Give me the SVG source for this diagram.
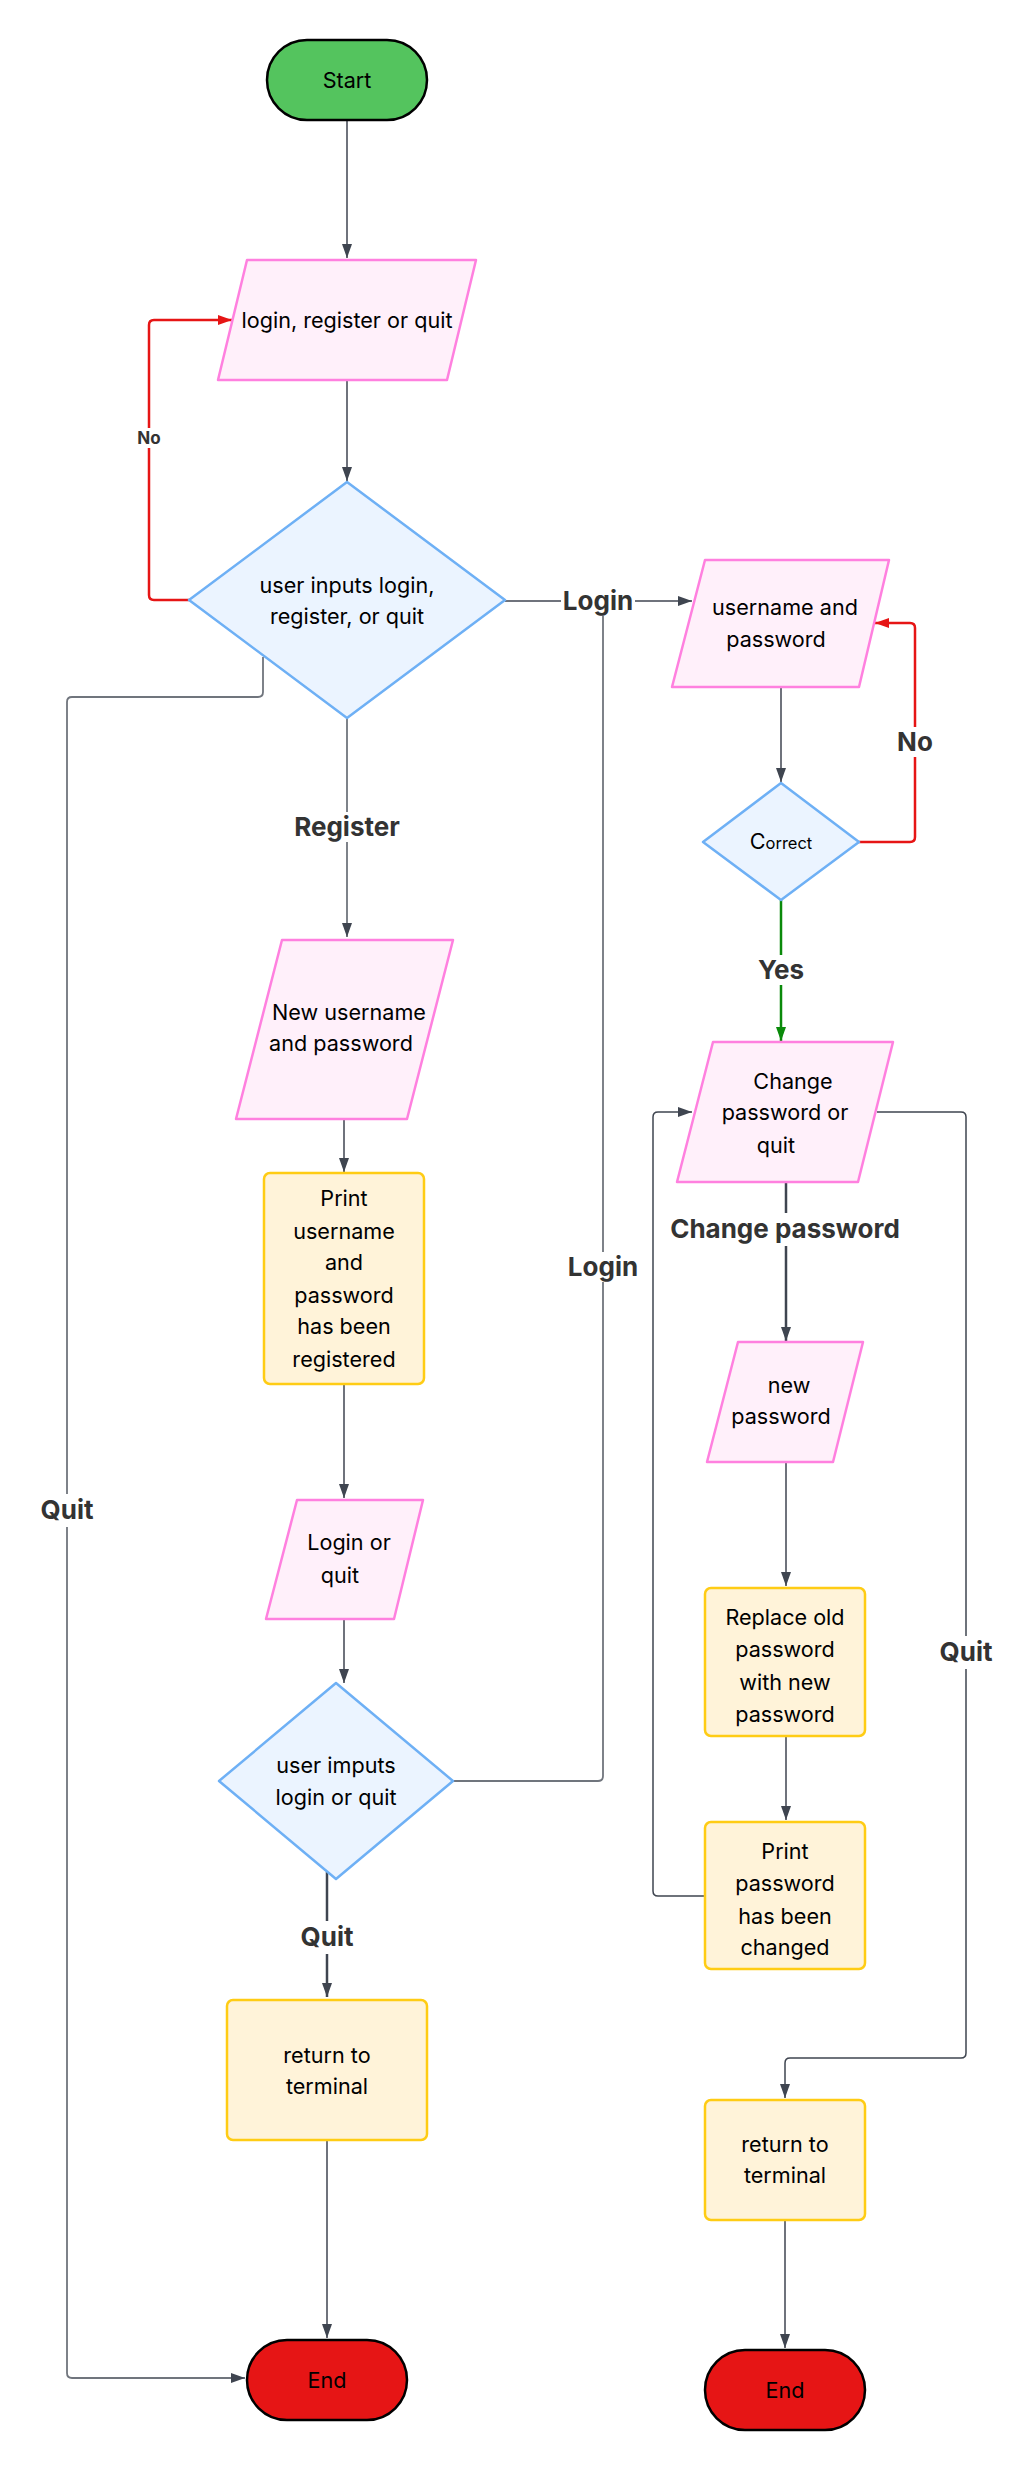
<svg xmlns="http://www.w3.org/2000/svg" width="1034" height="2469" viewBox="0 0 1034 2469">
<style>
text{font-family:Inter,"Liberation Sans",sans-serif;}
.nt{font-size:21.6px;fill:#000;text-anchor:middle;}
.lb{font-size:26px;font-weight:700;fill:#333;text-anchor:middle;}
.lbs{font-size:17px;font-weight:700;fill:#333;text-anchor:middle;}
.term{stroke:#000;stroke-width:2.5;}
.io{fill:#fff0fa;stroke:#ff80df;stroke-width:2.5;stroke-linejoin:round;}
.dec{fill:#ebf4ff;stroke:#6eb0f5;stroke-width:2.5;stroke-linejoin:round;}
.proc{fill:#fff3d9;stroke:#ffcc14;stroke-width:2.5;}
.e{fill:none;stroke:#3f4550;stroke-width:1.5;}
.ek{fill:none;stroke:#3f4550;stroke-width:2.5;}
.eg{fill:none;stroke:#70757d;stroke-width:1.8;}
.er{fill:none;stroke:#e61515;stroke-width:2.5;}
.egr{fill:none;stroke:#0a8a0a;stroke-width:2.5;}
.lbg{fill:#fff;}
</style>
<defs>
<marker id="ad" viewBox="0 0 14 10" refX="14" refY="5" markerWidth="14" markerHeight="10" markerUnits="userSpaceOnUse" orient="auto"><path d="M0,0 L14,5 L0,10 z" fill="#3f4550"/></marker>
<marker id="ar" viewBox="0 0 14 10" refX="14" refY="5" markerWidth="14" markerHeight="10" markerUnits="userSpaceOnUse" orient="auto"><path d="M0,0 L14,5 L0,10 z" fill="#e61515"/></marker>
<marker id="ag" viewBox="0 0 14 10" refX="14" refY="5" markerWidth="14" markerHeight="10" markerUnits="userSpaceOnUse" orient="auto"><path d="M0,0 L14,5 L0,10 z" fill="#0a8a0a"/></marker>
</defs>
<rect width="1034" height="2469" fill="#fff"/>

<g id="connectors">
<path class="e" d="M347,121 V258" marker-end="url(#ad)"/>
<path class="e" d="M347,381 V481" marker-end="url(#ad)"/>
<path class="er" d="M190,600 H154 Q149,600 149,595 V325 Q149,320 154,320 H232" marker-end="url(#ar)"/>
<path class="e" d="M505,601 H692" marker-end="url(#ad)"/>
<path class="eg" d="M347,718 V937" marker-end="url(#ad)"/>
<path class="eg" d="M263,657 V692 Q263,697 258,697 H72 Q67,697 67,702 V2373 Q67,2378 72,2378 H245" marker-end="url(#ad)"/>
<path class="e" d="M344,1120 V1172" marker-end="url(#ad)"/>
<path class="e" d="M344,1385 V1498" marker-end="url(#ad)"/>
<path class="e" d="M344,1620 V1683" marker-end="url(#ad)"/>
<path class="eg" d="M452,1781 H598 Q603,1781 603,1776 V602"/>
<path class="ek" d="M327,1872 V1997" marker-end="url(#ad)"/>
<path class="e" d="M327,2141 V2338" marker-end="url(#ad)"/>
<path class="e" d="M781,688 V782" marker-end="url(#ad)"/>
<path class="er" d="M858,842 H910 Q915,842 915,837 V628 Q915,623 910,623 H875" marker-end="url(#ar)"/>
<path class="egr" d="M781,900 V1041" marker-end="url(#ag)"/>
<path class="ek" d="M786,1183 V1341" marker-end="url(#ad)"/>
<path class="e" d="M786,1463 V1586" marker-end="url(#ad)"/>
<path class="e" d="M786,1737 V1820" marker-end="url(#ad)"/>
<path class="e" d="M704,1896 H658 Q653,1896 653,1891 V1117 Q653,1112 658,1112 H692" marker-end="url(#ad)"/>
<path class="e" d="M877,1112 H961 Q966,1112 966,1117 V2053 Q966,2058 961,2058 H790 Q785,2058 785,2063 V2098" marker-end="url(#ad)"/>
<path class="e" d="M785,2221 V2348" marker-end="url(#ad)"/>

<g id="edge-labels">
<rect class="lbg" x="136" y="428" width="26" height="20"/>
<text class="lbs" x="149" y="444">No</text>
<rect class="lbg" x="561" y="586" width="74" height="30"/>
<text class="lb" x="598" y="610">Login</text>
<rect class="lbg" x="290" y="812" width="114" height="30"/>
<text class="lb" x="347" y="836">Register</text>
<rect class="lbg" x="38" y="1494" width="58" height="33"/>
<text class="lb" x="67" y="1519">Quit</text>
<rect class="lbg" x="566" y="1252" width="74" height="30"/>
<text class="lb" x="603" y="1276">Login</text>
<rect class="lbg" x="298" y="1921" width="58" height="33"/>
<text class="lb" x="327" y="1946">Quit</text>
<rect class="lbg" x="896" y="727" width="38" height="30"/>
<text class="lb" x="915" y="751">No</text>
<rect class="lbg" x="755" y="955" width="52" height="30"/>
<text class="lb" x="781" y="979">Yes</text>
<rect class="lbg" x="664" y="1213" width="244" height="33"/>
<text class="lb" x="785" y="1238">Change password</text>
<rect class="lbg" x="937" y="1636" width="58" height="33"/>
<text class="lb" x="966" y="1661">Quit</text>
</g>
</g>

<g id="start">
<rect class="term" x="267" y="40" width="160" height="80" rx="40" fill="#54c45e"/>
<text class="nt" x="347" y="88">Start</text>
</g>
<g id="login-register-quit">
<polygon class="io" points="247,260 476,260 447,380 218,380"/>
<text class="nt" x="347" y="328">login, register or quit</text>
</g>
<g id="user-inputs">
<polygon class="dec" points="347,482 505,600 347,718 189,600"/>
<text class="nt" x="347" y="593">user inputs login,</text>
<text class="nt" x="347" y="624">register, or quit</text>
</g>
<g id="new-username">
<polygon class="io" points="282,940 453,940 407,1119 236,1119"/>
<text class="nt" x="349" y="1020">New username</text>
<text class="nt" x="341" y="1051">and password</text>
</g>
<g id="print-registered">
<rect class="proc" x="264" y="1173" width="160" height="211" rx="6"/>
<text class="nt" x="344" y="1206">Print</text>
<text class="nt" x="344" y="1239">username</text>
<text class="nt" x="344" y="1270">and</text>
<text class="nt" x="344" y="1303">password</text>
<text class="nt" x="344" y="1334">has been</text>
<text class="nt" x="344" y="1367">registered</text>
</g>
<g id="login-or-quit">
<polygon class="io" points="297,1500 423,1500 394,1619 266,1619"/>
<text class="nt" x="349" y="1550">Login or</text>
<text class="nt" x="340" y="1583">quit</text>
</g>
<g id="user-imputs">
<polygon class="dec" points="336,1683 453,1781 336,1879 219,1781"/>
<text class="nt" x="336" y="1773">user imputs</text>
<text class="nt" x="336" y="1805">login or quit</text>
</g>
<g id="return-terminal-1">
<rect class="proc" x="227" y="2000" width="200" height="140" rx="6"/>
<text class="nt" x="327" y="2063">return to</text>
<text class="nt" x="327" y="2094">terminal</text>
</g>
<g id="end-1">
<rect class="term" x="247" y="2340" width="160" height="80" rx="40" fill="#e61515"/>
<text class="nt" x="327" y="2388">End</text>
</g>
<g id="username-password">
<polygon class="io" points="705,560 889,560 859,687 672,687"/>
<text class="nt" x="785" y="615">username and</text>
<text class="nt" x="776" y="647">password</text>
</g>
<g id="correct">
<polygon class="dec" points="781,783 859,842 781,900 703,842"/>
<text class="nt" x="781" y="849"><tspan>C</tspan><tspan font-size="16.5">orrect</tspan></text>
</g>
<g id="change-or-quit">
<polygon class="io" points="713,1042 893,1042 858,1182 677,1182"/>
<text class="nt" x="793" y="1089">Change</text>
<text class="nt" x="785" y="1120">password or</text>
<text class="nt" x="776" y="1153">quit</text>
</g>
<g id="new-password">
<polygon class="io" points="738,1342 863,1342 833,1462 707,1462"/>
<text class="nt" x="789" y="1393">new</text>
<text class="nt" x="781" y="1424">password</text>
</g>
<g id="replace">
<rect class="proc" x="705" y="1588" width="160" height="148" rx="6"/>
<text class="nt" x="785" y="1625">Replace old</text>
<text class="nt" x="785" y="1657">password</text>
<text class="nt" x="785" y="1690">with new</text>
<text class="nt" x="785" y="1722">password</text>
</g>
<g id="print-changed">
<rect class="proc" x="705" y="1822" width="160" height="147" rx="6"/>
<text class="nt" x="785" y="1859">Print</text>
<text class="nt" x="785" y="1891">password</text>
<text class="nt" x="785" y="1924">has been</text>
<text class="nt" x="785" y="1955">changed</text>
</g>
<g id="return-terminal-2">
<rect class="proc" x="705" y="2100" width="160" height="120" rx="6"/>
<text class="nt" x="785" y="2152">return to</text>
<text class="nt" x="785" y="2183">terminal</text>
</g>
<g id="end-2">
<rect class="term" x="705" y="2350" width="160" height="80" rx="40" fill="#e61515"/>
<text class="nt" x="785" y="2398">End</text>
</g>
</svg>
